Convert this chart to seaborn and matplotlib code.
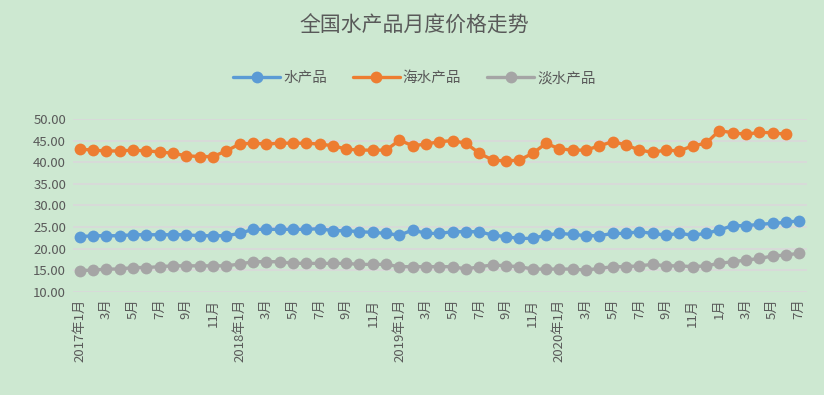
import pandas as pd
import matplotlib
matplotlib.use("Agg")
import matplotlib.pyplot as plt
import seaborn as sns

# ==========================================
# DONNEES
# ==========================================
months = list(range(55))  # 2017-01 .. 2021-07

tick_labels = ["2017年1月", "3月", "5月", "7月", "9月", "11月",
               "2018年1月", "3月", "5月", "7月", "9月", "11月",
               "2019年1月", "3月", "5月", "7月", "9月", "11月",
               "2020年1月", "3月", "5月", "7月", "9月", "11月",
               "1月", "3月", "5月", "7月"]

all_products = [22.74, 22.97, 22.97, 22.97, 23.2, 23.2, 23.2, 23.2, 23.2, 22.97,
                22.97, 22.97, 23.5, 24.44, 24.44, 24.44, 24.44, 24.44, 24.6, 24.13,
                24.13, 23.9, 23.75, 23.5, 23.1, 24.3, 23.5, 23.5, 23.9, 23.9,
                23.9, 23.1, 22.74, 22.35, 22.35, 23.1, 23.5, 23.28, 22.97, 22.97,
                23.5, 23.5, 23.9, 23.5, 23.1, 23.5, 23.1, 23.5, 24.3, 25.29,
                25.29, 25.6, 25.83, 26.06, 26.45]

seawater = [43.05, 42.8, 42.6, 42.6, 42.8, 42.6, 42.4, 42.05, 41.5, 41.3,
            41.3, 42.6, 44.2, 44.4, 44.2, 44.4, 44.4, 44.4, 44.2, 43.8,
            43.05, 42.8, 42.8, 42.8, 45.1, 43.8, 44.2, 44.75, 45.0, 44.36,
            42.05, 40.5, 40.27, 40.5, 42.05, 44.36, 43.1, 42.8, 42.8, 43.8,
            44.75, 44.0, 42.8, 42.3, 42.8, 42.6, 43.8, 44.36, 47.3, 46.83,
            46.45, 46.9, 46.83, 46.45]

freshwater = [14.9, 15.0, 15.25, 15.25, 15.6, 15.6, 15.8, 16.0, 16.0, 16.0,
              16.0, 16.0, 16.4, 16.95, 16.95, 16.95, 16.6, 16.56, 16.56, 16.56,
              16.56, 16.33, 16.33, 16.33, 15.8, 15.8, 15.8, 15.8, 15.8, 15.25,
              15.8, 16.2, 16.0, 15.8, 15.25, 15.25, 15.25, 15.25, 15.0, 15.4,
              15.8, 15.8, 16.0, 16.33, 16.0, 16.0, 15.8, 16.0, 16.56, 16.95,
              17.3, 17.7, 18.26, 18.5, 18.9]

series = [("水产品", all_products, "#5B9BD5"),
          ("海水产品", seawater, "#ED7D31"),
          ("淡水产品", freshwater, "#A5A5A5")]

# ==========================================
# FIGURE
# ==========================================
BG = "#CDE8D1"
TXT = "#595959"

sns.set_theme(style="white")
plt.rcParams['font.family'] = ['Noto Sans CJK SC', 'DejaVu Sans']

fig = plt.figure(figsize=(8.24, 3.95), dpi=100, facecolor=BG)
ax = fig.add_axes([0.0886, 0.2615, 0.891, 0.4372], facecolor=BG)

for name, vals, col in series:
    df = pd.DataFrame({"mois": months[:len(vals)], "prix": vals})
    sns.lineplot(data=df, x="mois", y="prix", ax=ax, color=col, label=name,
                 linewidth=2.4, marker="o", markersize=8.5, markeredgewidth=0)

ax.set_xlim(-0.5, 54.6)
ax.set_ylim(10, 50)
ax.set_yticks(range(10, 51, 5))
ax.set_yticklabels([f"{v:.2f}" for v in range(10, 51, 5)], fontsize=9.5, color=TXT)
ax.set_xticks(months[::2])
ax.set_xticklabels(tick_labels, rotation=90, fontsize=9.5, color=TXT)
ax.tick_params(axis="both", length=0, pad=5)
ax.set_xlabel("")
ax.set_ylabel("")
ax.grid(axis="y", color="#D9D9D9", linewidth=1.3)
ax.set_axisbelow(True)
for s in ax.spines.values():
    s.set_visible(False)

ax.legend_.remove()
handles, labels = ax.get_legend_handles_labels()
fig.legend(handles, labels, loc="center", bbox_to_anchor=(0.503, 0.802), ncol=3,
           frameon=False, fontsize=10.5, labelcolor=TXT, handlelength=3.2,
           handletextpad=0.2, columnspacing=1.8)

fig.text(0.503, 0.935, "全国水产品月度价格走势", ha="center", va="center",
         fontsize=15, color=TXT)

fig.savefig("out.png", dpi=100, facecolor=BG)
